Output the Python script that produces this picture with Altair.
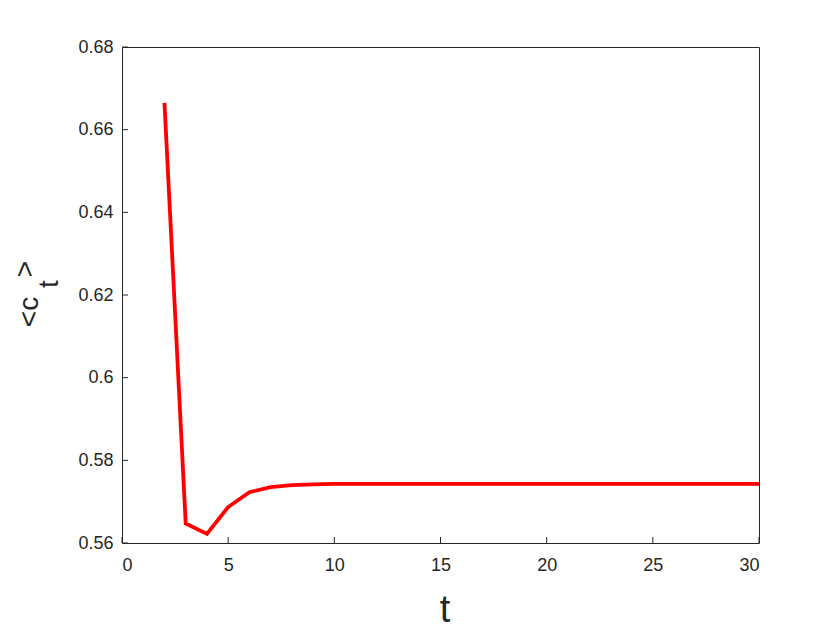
import altair as alt
import pandas as pd

t_vals = list(range(2, 31))
c_vals = [0.6665, 0.5647, 0.5622, 0.5687, 0.5723, 0.5735, 0.5740, 0.5742, 0.5743,
          0.5743, 0.5743, 0.5743, 0.5743, 0.5743, 0.5743, 0.5743, 0.5743, 0.5743,
          0.5743, 0.5743, 0.5743, 0.5743, 0.5743, 0.5743, 0.5743, 0.5743, 0.5743,
          0.5743, 0.5743]
x_ticks = [0, 5, 10, 15, 20, 25, 30]
y_ticks = [0.56, 0.58, 0.60, 0.62, 0.64, 0.66, 0.68]

W, H = 637, 496
df = pd.DataFrame({"t": t_vals, "c": c_vals})
xs = alt.Scale(domain=[0, 30], nice=False, zero=False)
ys = alt.Scale(domain=[0.56, 0.68], nice=False, zero=False)

axis_common = dict(domain=False, ticks=False, grid=False, labelFont="Arial",
                   labelFontSize=18, labelColor="#262626", title=None)

line = alt.Chart(df).mark_line(color="#ff0000", strokeWidth=3.8, clip=True).encode(
    x=alt.X("t:Q", scale=xs, axis=alt.Axis(values=x_ticks, labelPadding=13, **axis_common)),
    y=alt.Y("c:Q", scale=ys, axis=alt.Axis(values=y_ticks, format="~g", labelPadding=9, **axis_common)),
)

xt = pd.DataFrame({"v": x_ticks})
yt = pd.DataFrame({"v": y_ticks})
xtick_bottom = alt.Chart(xt).mark_rule(color="#262626", strokeWidth=1).encode(
    x=alt.X("v:Q", scale=xs), y=alt.value(H), y2=alt.value(H - 6))
ytick_left = alt.Chart(yt).mark_rule(color="#262626", strokeWidth=1).encode(
    y=alt.Y("v:Q", scale=ys), x=alt.value(0), x2=alt.value(6))

xtitle = alt.Chart(pd.DataFrame({"s": ["t"]})).mark_text(
    fontSize=38, font="Arial", color="#262626", baseline="alphabetic").encode(
    text="s:N", x=alt.value(323), y=alt.value(575))

lab = pd.DataFrame({"s": ["<c", "t", ">"],
                    "px": [-92, -72, -96],
                    "py": [265, 237, 222]})
ytitle = alt.Chart(lab).mark_text(
    fontSize=28, font="Arial", color="#262626", angle=270).encode(
    text="s:N", x=alt.X("px:Q", scale=None), y=alt.Y("py:Q", scale=None))

chart = alt.layer(line, xtick_bottom, ytick_left, xtitle, ytitle).properties(
    width=W, height=H,
    background="white",
    autosize=alt.AutoSizeParams(type="none"),
    padding={"left": 114, "top": 39, "right": 20, "bottom": 86},
).configure_view(stroke="#262626", strokeWidth=1)

chart.save("out.html", embed_options={"renderer": "svg", "actions": False})
